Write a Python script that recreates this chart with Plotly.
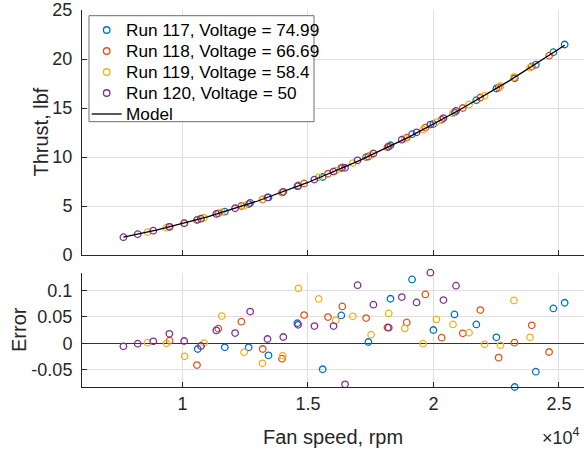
import plotly.graph_objects as go
from plotly.subplots import make_subplots

# ---- measured data: fan speed (rpm), thrust (lbf) and model error per run ----
run117_rpm = [10610, 11690, 12640, 13430, 14580, 15590, 16330, 17410, 18290, 19150,
              20000, 20840, 21710, 22510, 23240, 24080, 24780, 25230]
run117_thrust = [3.61, 4.42, 5.20, 5.87, 7.02, 7.96, 8.87, 10.05, 11.20, 12.33,
                 13.37, 14.56, 15.80, 16.99, 18.03, 19.42, 20.70, 21.48]
run117_error = [-0.0107, -0.0075, -0.0075, -0.0226, 0.038, -0.049, 0.0528, 0.0025, 0.0843, 0.1208,
                0.0252, 0.0547, 0.0358, 0.0113, -0.0825, -0.0535, 0.066, 0.0767]

run118_rpm = [9490, 10580, 11430, 12350, 13200, 13970, 14850, 15800, 16370, 17320,
              18170, 18940, 19680, 20330, 21170, 21870, 22600, 23230, 23920, 24610]
run118_thrust = [2.87, 3.56, 4.25, 5.00, 5.68, 6.37, 7.30, 8.29, 8.93, 9.99,
                 11.00, 11.98, 13.00, 13.80, 15.00, 16.07, 17.09, 18.10, 19.24, 20.34]
run118_error = [0.005, -0.041, 0.0277, 0.041, -0.0107, -0.029, 0.0535, 0.0497, 0.0698, 0.0478,
                0.030, 0.0396, 0.0925, 0.0107, 0.0189, 0.0629, -0.027, 0.0013, 0.034, -0.0164]

run119_rpm = [8610, 9370, 10090, 10860, 11570, 12460, 13190, 14000, 14620, 15430, 16110, 16790,
              17520, 18220, 18860, 19590, 20120, 20780, 21420, 22040, 22670, 23210, 23850]
run119_thrust = [2.34, 2.79, 3.24, 3.80, 4.38, 5.03, 5.64, 6.40, 7.13, 7.93, 8.61, 9.38,
                 10.19, 11.08, 11.86, 12.79, 13.55, 14.46, 15.36, 16.26, 17.22, 18.15, 19.11]
run119_error = [0.0013, 0.0, -0.0245, 0.0006, 0.0516, -0.017, -0.0377, -0.0233, 0.104, 0.084, 0.0434, 0.051,
                0.0164, 0.0566, 0.0283, -0.0006, 0.0453, 0.0358, 0.0201, -0.0019, -0.0038, 0.0811, 0.0113]

run120_rpm = [7650, 8220, 8840, 9480, 10070, 10740, 11350, 12100, 12700, 13390, 14020, 14610,
              15260, 16020, 16480, 16980, 17610, 18220, 18740, 19330, 19880, 20400, 20900]
run120_thrust = [1.82, 2.12, 2.48, 2.88, 3.25, 3.71, 4.19, 4.77, 5.31, 5.87, 6.45, 7.05,
                 7.70, 8.51, 8.90, 9.66, 10.36, 11.06, 11.77, 12.52, 13.31, 13.97, 14.70]
run120_error = [-0.0057, -0.0006, 0.0038, 0.018, 0.0044, -0.005, 0.0245, 0.0195, 0.060, 0.0082, 0.012, 0.035,
                0.0327, 0.0327, -0.0774, 0.110, 0.073, 0.0296, 0.0874, 0.0774, 0.1335, 0.0818, 0.109]

# fitted thrust model evaluated along the speed range
model_rpm = [7650, 9000, 11000, 13000, 15000, 17000, 19000, 21000, 23000, 25230]
model_thrust = [1.82, 2.57, 3.90, 5.51, 7.40, 9.57, 12.01, 14.74, 17.74, 21.41]

run_names = ["Run 117, Voltage = 74.99", "Run 118, Voltage = 66.69",
             "Run 119, Voltage = 58.4", "Run 120, Voltage = 50"]
run_colors = ["#0072BD", "#D95319", "#EDB120", "#7E2F8E"]

x_ticks = [10000, 15000, 20000, 25000]
x_tick_text = ["1", "1.5", "2", "2.5"]
thrust_ticks = [0, 5, 10, 15, 20, 25]
error_ticks = [-0.05, 0, 0.05, 0.1]
error_tick_text = ["-0.05", "0", "0.05", "0.1"]

FONT = "Liberation Sans, Arial, Helvetica, sans-serif"
INK = "#262626"
GRID = "#dfdfdf"
MARKER_SIZE = 6.5
MARKER_LINE = 1.3

W, H = 584, 450
ML, MR, MT, MB = 82, 0, 10, 63
PLOT_W = W - ML - MR
PLOT_H = H - MT - MB


def px_x(px):
    return (px - ML) / PLOT_W


def px_y(py):
    return (H - MB - py) / PLOT_H


fig = make_subplots(rows=2, cols=1, shared_xaxes=False, vertical_spacing=0.0)

runs = [
    (run117_rpm, run117_thrust, run117_error),
    (run118_rpm, run118_thrust, run118_error),
    (run119_rpm, run119_thrust, run119_error),
    (run120_rpm, run120_thrust, run120_error),
]


def marker_style(c):
    return dict(symbol="circle-open", size=MARKER_SIZE, color=c, line=dict(width=MARKER_LINE, color=c))


for (rpm, thrust, err), name, color in zip(runs, run_names, run_colors):
    fig.add_trace(go.Scatter(x=rpm, y=thrust, mode="markers", name=name,
                             marker=marker_style(color), cliponaxis=False), row=1, col=1)

fig.add_trace(go.Scatter(x=model_rpm, y=model_thrust, mode="lines", name="Model",
                         line=dict(color="black", width=1.3)), row=1, col=1)

for (rpm, thrust, err), name, color in zip(runs, run_names, run_colors):
    fig.add_trace(go.Scatter(x=rpm, y=err, mode="markers", name=name,
                             marker=marker_style(color), cliponaxis=False), row=2, col=1)

axis_common = dict(
    showline=True, linecolor=INK, linewidth=1, mirror=False,
    ticks="inside", ticklen=5, tickcolor=INK, tickwidth=1,
    showgrid=True, gridcolor=GRID, gridwidth=1,
    tickfont=dict(family=FONT, size=18, color=INK),
)

fig.update_xaxes(**axis_common)
fig.update_yaxes(**axis_common)

fig.update_layout(
    width=W, height=H,
    margin=dict(l=ML, r=MR, t=MT, b=MB, pad=0),
    paper_bgcolor="white", plot_bgcolor="white",
    font=dict(family=FONT, size=18, color=INK),
    showlegend=False,
    xaxis=dict(domain=[0, 1], range=[6000, 26000], tickvals=x_ticks, showticklabels=False,
               zeroline=False, anchor="y"),
    yaxis=dict(domain=[px_y(255), 1], range=[0, 25], tickvals=thrust_ticks, zeroline=False,
               ticklabelstandoff=5, anchor="x"),
    xaxis2=dict(domain=[0, 1], range=[6000, 26000], tickvals=x_ticks, ticktext=x_tick_text,
                zeroline=False, ticklabelstandoff=0, anchor="y2"),
    yaxis2=dict(domain=[0, px_y(272.7)], range=[-0.0825, 0.1335], tickvals=error_ticks,
                ticktext=error_tick_text, zeroline=True, zerolinecolor="#333333", zerolinewidth=1.2,
                ticklabelstandoff=5, anchor="x2"),
)

# ---- legend box (drawn in paper space so the row spacing stays compact) ----
LEG_LEFT, LEG_TOP, LEG_RIGHT, LEG_BOTTOM = 89, 15.7, 314, 121.7
LEG_ROW0, LEG_ROW_STEP = 30.0, 21.0
LEG_SYMBOL_X, LEG_TEXT_X = 106.7, 124.3

shapes = [dict(type="rect", xref="paper", yref="paper",
               x0=px_x(LEG_LEFT), x1=px_x(LEG_RIGHT), y0=px_y(LEG_BOTTOM), y1=px_y(LEG_TOP),
               fillcolor="white", line=dict(color="#6e6e6e", width=1), layer="above")]
annotations = []
legend_labels = run_names + ["Model"]
r = MARKER_SIZE / 2
for i, label in enumerate(legend_labels):
    row_y = LEG_ROW0 + i * LEG_ROW_STEP
    if i < len(run_colors):
        shapes.append(dict(type="circle", xref="paper", yref="paper",
                           xsizemode="pixel", ysizemode="pixel",
                           xanchor=px_x(LEG_SYMBOL_X), yanchor=px_y(row_y),
                           x0=-r, x1=r, y0=-r, y1=r,
                           line=dict(color=run_colors[i], width=MARKER_LINE), layer="above"))
    else:
        shapes.append(dict(type="line", xref="paper", yref="paper",
                           x0=px_x(91.7), x1=px_x(121.7), y0=px_y(row_y), y1=px_y(row_y),
                           line=dict(color="black", width=1.3), layer="above"))
    annotations.append(dict(text=label, x=px_x(LEG_TEXT_X), y=px_y(row_y), xanchor="left",
                            font=dict(size=17.2, color="black")))

annotations += [
    dict(text="Thrust, lbf", x=px_x(40), y=px_y(132.5), textangle=-90, font=dict(size=20)),
    dict(text="Error", x=px_x(19), y=px_y(330), textangle=-90, font=dict(size=20)),
    dict(text="Fan speed, rpm", x=px_x(333), y=px_y(437), font=dict(size=20)),
    dict(text="×10<sup>4</sup>", x=px_x(582), y=px_y(436), xanchor="right", font=dict(size=18)),
]
for a in annotations:
    a.setdefault("xanchor", "center")
    a.update(xref="paper", yref="paper", yanchor="middle", showarrow=False)
    f = a["font"]
    a["font"] = dict(family=FONT, size=f["size"], color=f.get("color", INK))

fig.update_layout(shapes=shapes, annotations=annotations)

fig.write_html("out.html")
